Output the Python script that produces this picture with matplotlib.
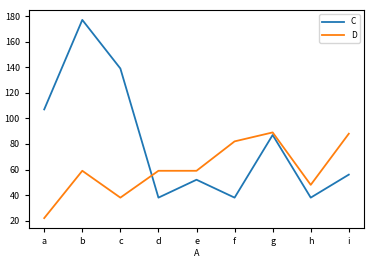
import matplotlib
matplotlib.use("Agg")
import matplotlib.pyplot as plt

plt.rcParams['font.family'] = ['Noto Sans CJK SC', 'DejaVu Sans']

categories = ['a', 'b', 'c', 'd', 'e', 'f', 'g', 'h', 'i']
series_c = [107, 177, 139, 38, 52, 38, 87, 38, 56]
series_d = [22, 59, 38, 59, 59, 82, 89, 48, 88]
yticks = [20, 40, 60, 80, 100, 120, 140, 160, 180]

fig = plt.figure(figsize=(3.84, 2.61), dpi=100)
ax = fig.add_axes([0.0755, 0.1264, 0.8725, 0.8353])
x = range(len(categories))
ax.plot(x, series_c, color='#1f77b4', lw=1.3, label='C')
ax.plot(x, series_d, color='#ff7f0e', lw=1.3, label='D')
ax.set_xticks(list(x))
ax.set_xticklabels(categories)
ax.set_yticks(yticks)
ax.tick_params(labelsize=6.5, length=3, width=0.8)
ax.set_xlabel('A', fontsize=6.5, labelpad=2)
for s in ax.spines.values():
    s.set_linewidth(0.8)
ax.legend(loc='upper right', fontsize=6, handlelength=2.6)
fig.savefig('out.png', dpi=100)
